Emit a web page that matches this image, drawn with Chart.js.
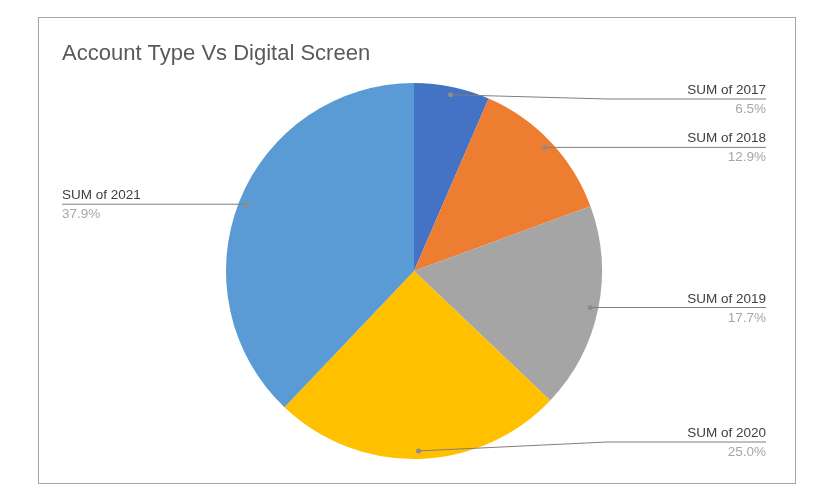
<!DOCTYPE html>
<html>
<head>
<meta charset="utf-8">
<script src="https://cdn.jsdelivr.net/npm/chart.js@4"></script>
<style>
  html, body { margin: 0; padding: 0; background: #fff; }
  #wrap { width: 833px; height: 503px; position: relative; }
</style>
</head>
<body>
<div id="wrap"><canvas id="chart_1" width="833" height="503"></canvas></div>
<script>
const title = 'Account Type Vs Digital Screen';
const categories = ['SUM of 2017', 'SUM of 2018', 'SUM of 2019', 'SUM of 2020', 'SUM of 2021'];
const values = [6.5, 12.9, 17.7, 25.0, 37.9];
const colors = ['#4472C4', '#ED7D31', '#A5A5A5', '#FFC000', '#5B9BD5'];

const FONT = '"Liberation Sans", Arial, sans-serif';

// excel-ish leader lines + labels
const excelLabels = {
    id: 'excelLabels',
    beforeDraw(chart) {
        const ctx = chart.ctx;
        ctx.save();
        ctx.strokeStyle = '#A6A6A6';
        ctx.lineWidth = 1;
        ctx.strokeRect(38.5, 17.5, 757, 466);
        ctx.fillStyle = '#595959';
        ctx.font = '22px ' + FONT;
        ctx.textBaseline = 'alphabetic';
        ctx.fillText(title, 62, 60);
        ctx.restore();
    },
    afterDraw(chart) {
        const ctx = chart.ctx;
        const meta = chart.getDatasetMeta(0);
        const area = chart.chartArea;
        const total = values.reduce((a, b) => a + b, 0);
        const rightX = 766, leftX = 62, knee = 159;
        meta.data.forEach((arc, i) => {
            const p = arc.getProps(['x', 'y', 'startAngle', 'endAngle', 'outerRadius'], true);
            const mid = (p.startAngle + p.endAngle) / 2;
            const r = p.outerRadius - 8;
            const dx = p.x + Math.cos(mid) * r;
            const dy = p.y + Math.sin(mid) * r;
            const lineY = Math.min(Math.max(dy, area.top + 16), area.bottom - 17);
            const right = Math.cos(mid) >= 0;
            ctx.save();
            ctx.strokeStyle = '#7F7F7F';
            ctx.lineWidth = 1;
            ctx.beginPath();
            ctx.moveTo(dx, dy);
            if (right) {
                ctx.lineTo(Math.max(dx, rightX - knee), lineY);
                ctx.lineTo(rightX, lineY);
            } else {
                ctx.lineTo(Math.min(dx, leftX + knee), lineY);
                ctx.lineTo(leftX, lineY);
            }
            ctx.stroke();
            ctx.fillStyle = '#8C8C8C';
            ctx.beginPath();
            ctx.arc(dx, dy, 2.5, 0, Math.PI * 2);
            ctx.fill();
            ctx.font = '13.5px ' + FONT;
            ctx.textAlign = right ? 'right' : 'left';
            const tx = right ? rightX : leftX;
            ctx.fillStyle = '#404040';
            ctx.fillText(categories[i], tx, lineY - 5);
            ctx.fillStyle = '#A6A6A6';
            ctx.fillText((values[i] / total * 100).toFixed(1) + '%', tx, lineY + 14);
            ctx.restore();
        });
    }
};

var chart1 = new Chart(document.getElementById('chart_1'), {
    type: 'pie',
    data: {
        labels: categories,
        datasets: [
            {
                data: values,
                backgroundColor: colors,
                borderWidth: 0
            }
        ]
    },
    options: {
        responsive: false,
        animation: false,
        layout: {
            padding: { top: 83, bottom: 44, left: 226, right: 231 }
        },
        plugins: {
            legend: { display: false },
            tooltip: { enabled: false }
        }
    },
    plugins: [excelLabels]
});
</script>
</body>
</html>
